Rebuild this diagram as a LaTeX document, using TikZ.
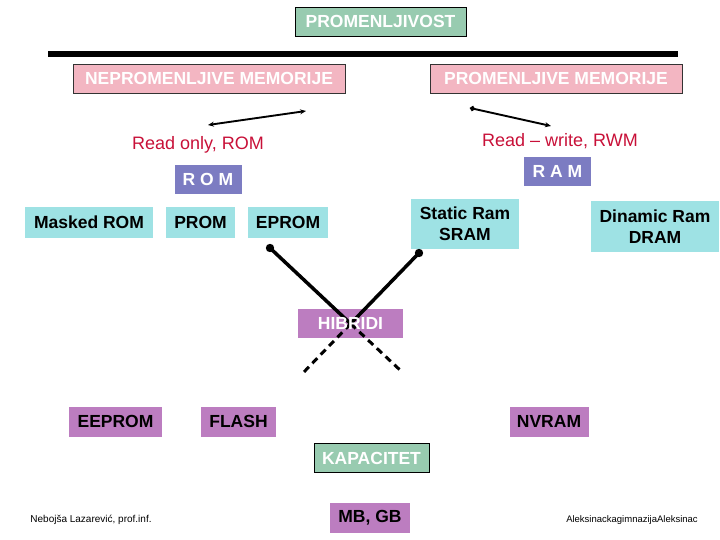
\documentclass[tikz,border=0pt]{standalone}
\usepackage{fontspec}
\setmainfont{Liberation Sans}
\usetikzlibrary{arrows.meta}
\definecolor{mgreen}{RGB}{152,203,176}
\definecolor{mpink}{RGB}{243,182,194}
\definecolor{mred}{RGB}{200,16,56}
\definecolor{mpurple}{RGB}{124,124,194}
\definecolor{mcyan}{RGB}{158,226,228}
\definecolor{morchid}{RGB}{188,125,192}
\begin{document}
\begin{tikzpicture}[x=1pt,y=-1pt,
  bx/.style={rectangle, inner sep=0pt, align=center, font=\bfseries\fontsize{17.5}{21}\selectfont},
  greenbox/.style={bx, fill=mgreen, draw=black, line width=0.8pt, text=white},
  pinkbox/.style={bx, fill=mpink, draw=black!80, line width=0.6pt, text=white},
  purplebox/.style={bx, fill=mpurple, text=white},
  cyanbox/.style={bx, fill=mcyan, text=black},
  orchidbox/.style={bx, fill=morchid, text=black},
  redtext/.style={text=mred, font=\fontsize{18}{21}\selectfont, inner sep=0pt},
  foot/.style={font=\fontsize{10}{12}\selectfont, inner sep=0pt},
  thinarrow/.style={line width=1.9pt},
  crossline/.style={line width=3.5pt, black},
  crossdash/.style={line width=3pt, black, dash pattern=on 7pt off 5pt}
]
\useasboundingbox (0,0) rectangle (720,540);

% top
\node[greenbox, minimum width=171pt, minimum height=29pt] (top) at (380.5,21.5) {PROMENLJIVOST};
\coordinate (barL) at (48,54);
\coordinate (barR) at (678,54);
\draw[line width=5.5pt] (barL) -- (barR);

\node[pinkbox, minimum width=272pt, minimum height=29pt] (nep) at (209,78.5) {NEPROMENLJIVE MEMORIJE};
\node[pinkbox, minimum width=252pt, minimum height=29pt] (prm) at (556,78.5) {PROMENLJIVE MEMORIJE};

% arrows
\coordinate (a1) at (208,125);
\coordinate (a2) at (306,111);
\draw[thinarrow, {Stealth[length=6pt,width=5pt]}-{Stealth[length=6pt,width=5pt]}] (a1) -- (a2);
\coordinate (b1) at (470,108);
\coordinate (b2) at (551,126);
\draw[thinarrow, {Circle[length=5pt]}-{Stealth[length=6pt,width=5pt]}] (b1) -- (b2);

\node[redtext] (ro) at (198,145) {Read only, ROM};
\node[redtext] (rw) at (560,141) {Read -- write, RWM};

% ROM / RAM
\node[purplebox, minimum width=67pt, minimum height=29pt] (rom) at (208,179.5) {R O M};
\node[purplebox, minimum width=67pt, minimum height=29pt] (ram) at (557.5,171.5) {R A M};

\node[cyanbox, minimum width=128pt, minimum height=30pt] (masked) at (89,222.5) {Masked ROM};
\node[cyanbox, minimum width=69pt, minimum height=30pt] (prom) at (200.5,222.5) {PROM};
\node[cyanbox, minimum width=80pt, minimum height=30pt] (eprom) at (288,222.5) {EPROM};
\node[cyanbox, minimum width=108pt, minimum height=50pt] (sram) at (465,224) {Static Ram\\SRAM};
\node[cyanbox, minimum width=128pt, minimum height=51pt] (dram) at (655,226.5) {Dinamic Ram\\DRAM};

% HIBRIDI box fill
\node[orchidbox, minimum width=105pt, minimum height=29pt] (hibbox) at (350.5,323.5) {};

% crossing lines
\coordinate (c1s) at (270,248);
\coordinate (c2s) at (419,253);
\coordinate (cx) at (350.6,323.7);
\coordinate (c1e) at (400,370);
\coordinate (c2e) at (302,374);
\draw[crossline] (c1s) -- (cx);
\draw[crossline] (c2s) -- (cx);
\draw[crossdash] (cx) -- (c1e);
\draw[crossdash] (cx) -- (c2e);
\fill (c1s) circle (4.2pt);
\fill (c2s) circle (4.2pt);

\node[bx, text=white, inner sep=0pt] (hib) at (hibbox.center) {HIBRIDI};

% bottom
\node[orchidbox, minimum width=93pt, minimum height=30pt] (eeprom) at (115.5,421.5) {EEPROM};
\node[orchidbox, minimum width=75pt, minimum height=30pt] (flash) at (238.5,421.5) {FLASH};
\node[orchidbox, minimum width=79pt, minimum height=30pt] (nvram) at (549,421.5) {NVRAM};

\node[greenbox, minimum width=115pt, minimum height=29pt] (kap) at (371.5,458) {KAPACITET};
\node[orchidbox, minimum width=80pt, minimum height=30pt] (mb) at (370,518) {MB, GB};

\node[foot] (f1) at (91,520) {Nebojša Lazarević, prof.inf.};
\node[foot, font=\fontsize{9.5}{11}\selectfont] (f2) at (632,520) {AleksinackagimnazijaAleksinac};
\end{tikzpicture}
\end{document}
